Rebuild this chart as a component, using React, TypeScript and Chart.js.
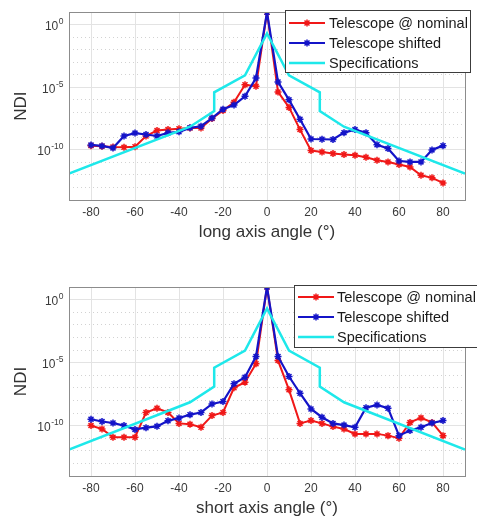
import React, { useEffect, useRef } from 'react';
import { Chart, registerables } from 'chart.js';

Chart.register(...registerables);

// ---------- data ----------
const angles = [-80, -75, -70, -65, -60, -55, -50, -45, -40, -35, -30, -25, -20, -15, -10, -5, 0, 5, 10, 15, 20, 25, 30, 35, 40, 45, 50, 55, 60, 65, 70, 75, 80];

const longNominal = [2.2e-10, 2.0e-10, 1.7e-10, 1.6e-10, 1.8e-10, 1.3e-9, 3.5e-9, 4.2e-9, 5.0e-9, 5.6e-9, 5.6e-9, 3.2e-8, 1.4e-7, 6.3e-7, 1.6e-5, 1.2e-5, 10, 4.3e-6, 2.5e-7, 4.2e-9, 8.9e-11, 6.9e-11, 5.1e-11, 4.3e-11, 3.7e-11, 2.6e-11, 1.5e-11, 1.1e-11, 6.8e-12, 4.4e-12, 9.5e-13, 5.9e-13, 2.3e-13];
const longShifted = [2.5e-10, 2.1e-10, 1.4e-10, 1.3e-9, 2.2e-9, 1.7e-9, 1.3e-9, 2.3e-9, 2.8e-9, 5.8e-9, 7.8e-9, 3.5e-8, 1.8e-7, 3.8e-7, 1.9e-6, 5.5e-5, 10, 2.7e-5, 1.0e-6, 2.8e-8, 7.4e-10, 7.1e-10, 6.8e-10, 2.4e-9, 4.2e-9, 2.4e-9, 2.6e-10, 1.3e-10, 1.3e-11, 1.1e-11, 1.1e-11, 1.0e-10, 2.2e-10];

const shortNominal = [1.0e-10, 5.4e-11, 1.2e-11, 1.2e-11, 1.2e-11, 1.1e-9, 2.4e-9, 1.1e-9, 1.5e-10, 1.3e-10, 7.4e-11, 6.3e-10, 1.1e-9, 1.0e-7, 2.8e-7, 8.1e-6, 10, 1.5e-5, 6.9e-8, 1.5e-10, 2.5e-10, 1.5e-10, 8.3e-11, 5.4e-11, 2.2e-11, 2.2e-11, 2.2e-11, 1.6e-11, 1.0e-11, 1.8e-10, 4.1e-10, 1.8e-10, 1.6e-11];
const shortShifted = [3.2e-10, 2.1e-10, 1.6e-10, 1.0e-10, 5.0e-11, 6.8e-11, 8.7e-11, 2.4e-10, 4.0e-10, 7.4e-10, 1.1e-9, 5.2e-9, 8.1e-9, 2.1e-7, 6.9e-7, 3.1e-5, 10, 3.1e-5, 7.9e-7, 3.7e-8, 2.1e-9, 4.6e-10, 1.5e-10, 1.1e-10, 7.4e-11, 2.6e-9, 4.4e-9, 2.4e-9, 1.6e-11, 4.0e-11, 7.4e-11, 1.6e-10, 2.5e-10];

const specAngles = [-90, -35, -24, -24, -10, 0, 10, 24, 24, 35, 90];
const specValues = [1.26e-12, 7.1e-9, 1.26e-7, 4.0e-6, 8.9e-5, 0.2, 8.9e-5, 4.0e-6, 1.26e-7, 7.1e-9, 1.26e-12];

const xTicks = [-80, -60, -40, -20, 0, 20, 40, 60, 80];
const yDecades = [1, 0, -1, -2, -3, -4, -5, -6, -7, -8, -9, -10, -11, -12, -13, -14];
const yLabelExponents = ['0', '-5', '-10'];
const legendLabels = ['Telescope @ nominal', 'Telescope shifted', 'Specifications'];

const RED = '#f01818';
const BLUE = '#1414c8';
const CYAN = '#1ee8ea';
const FONT = '"Liberation Sans", Arial, sans-serif';

Chart.defaults.font.family = FONT;

type Cfg = {
  nominal: number[];
  shifted: number[];
  xTitle: string;
  padTop: number;
  xAxisHeight: number;
  xTitlePadBottom: number;
  legendBox: { x: number; y: number; w: number; h: number; rows: number[]; lineX0: number; lineX1: number; textX: number };
};

function drawStar(ctx: CanvasRenderingContext2D, x: number, y: number, r: number) {
  ctx.beginPath();
  ctx.moveTo(x - r, y); ctx.lineTo(x + r, y);
  ctx.moveTo(x, y - r); ctx.lineTo(x, y + r);
  const d = r * 0.707;
  ctx.moveTo(x - d, y - d); ctx.lineTo(x + d, y + d);
  ctx.moveTo(x - d, y + d); ctx.lineTo(x + d, y - d);
  ctx.stroke();
}

function makeChart(canvas: HTMLCanvasElement, cfg: Cfg) {
  const lb = cfg.legendBox;
  const framePlugin = {
    id: 'frame',
    afterDraw(chart: any) {
      const { ctx, chartArea: a } = chart;
      ctx.save();
      ctx.strokeStyle = '#8c8c8c';
      ctx.lineWidth = 1;
      ctx.strokeRect(Math.round(a.left) + 0.5, Math.round(a.top) + 0.5, Math.round(a.right - a.left), Math.round(a.bottom - a.top));

      // y tick labels with superscript exponents
      const ys = chart.scales.y;
      ctx.fillStyle = '#3a3a3a';
      ctx.textBaseline = 'alphabetic';
      ctx.textAlign = 'left';
      yLabelExponents.forEach((ex) => {
        const y = ys.getPixelForValue(Math.pow(10, Number(ex)));
        ctx.font = '8.5px ' + FONT;
        const we = ctx.measureText(ex).width;
        ctx.font = '12px ' + FONT;
        const wb = ctx.measureText('10').width;
        const right = a.left - 6;
        const x0 = right - we - wb;
        ctx.fillText('10', x0, y + 5.5);
        ctx.font = '8.5px ' + FONT;
        ctx.fillText(ex, x0 + wb + 0.5, y - 0.5);
      });

      // legend
      ctx.fillStyle = '#ffffff';
      ctx.fillRect(lb.x, lb.y, lb.w, lb.h);
      ctx.strokeStyle = '#3c3c3c';
      ctx.lineWidth = 1;
      ctx.strokeRect(lb.x + 0.5, lb.y + 0.5, lb.w, lb.h);
      const cols = [RED, BLUE, CYAN];
      ctx.font = '14.5px ' + FONT;
      ctx.textBaseline = 'middle';
      ctx.textAlign = 'left';
      legendLabels.forEach((t, i) => {
        const y = lb.y + lb.rows[i];
        ctx.strokeStyle = cols[i];
        ctx.lineWidth = i === 2 ? 2.5 : 2;
        ctx.beginPath();
        ctx.moveTo(lb.x + lb.lineX0, y);
        ctx.lineTo(lb.x + lb.lineX1, y);
        ctx.stroke();
        if (i < 2) {
          ctx.lineWidth = 1.5;
          drawStar(ctx, lb.x + (lb.lineX0 + lb.lineX1) / 2, y, 3.5);
        }
        ctx.fillStyle = '#1a1a1a';
        ctx.fillText(t, lb.x + lb.textX, y + 1);
      });
      ctx.restore();
    },
  };

  const tickFont = { size: 12, family: FONT };
  const isMajor = (v: number) => {
    const e = Math.round(Math.log10(v));
    return e % 5 === 0;
  };

  return new Chart(canvas, {
    type: 'line',
    data: {
      datasets: [
        {
          label: legendLabels[0],
          data: angles.map((a, i) => ({ x: a, y: cfg.nominal[i] })),
          borderColor: RED,
          backgroundColor: RED,
          borderWidth: 2,
          pointStyle: 'star',
          pointRadius: 3.5,
          pointBorderWidth: 1.5,
          pointBorderColor: RED,
          order: 2,
        },
        {
          label: legendLabels[1],
          data: angles.map((a, i) => ({ x: a, y: cfg.shifted[i] })),
          borderColor: BLUE,
          backgroundColor: BLUE,
          borderWidth: 2.2,
          pointStyle: 'star',
          pointRadius: 3.5,
          pointBorderWidth: 1.5,
          pointBorderColor: BLUE,
          order: 1,
        },
        {
          label: legendLabels[2],
          data: specAngles.map((a, i) => ({ x: a, y: specValues[i] })),
          borderColor: CYAN,
          backgroundColor: CYAN,
          borderWidth: 2.5,
          pointRadius: 0,
          order: 0,
        },
      ],
    },
    options: {
      responsive: false,
      animation: false,
      devicePixelRatio: 1,
      layout: { padding: { top: cfg.padTop, right: 12, left: 0, bottom: 0 } },
      plugins: { legend: { display: false }, tooltip: { enabled: false } },
      elements: { line: { tension: 0 } },
      scales: {
        x: {
          type: 'linear',
          min: -90,
          max: 90,
          afterBuildTicks: (s: any) => { s.ticks = xTicks.map((v) => ({ value: v })); },
          afterFit: (s: any) => { s.height = cfg.xAxisHeight; },
          ticks: { autoSkip: false, maxRotation: 0, padding: 5, font: tickFont, color: '#3a3a3a' },
          grid: { color: '#e3e3e3', drawTicks: false, lineWidth: 1 },
          border: { display: false },
          title: { display: true, text: cfg.xTitle, font: { size: 17, family: FONT }, color: '#333333', padding: { top: 0, bottom: cfg.xTitlePadBottom } },
        },
        y: {
          type: 'logarithmic',
          min: 1e-14,
          max: 1e1,
          afterBuildTicks: (s: any) => { s.ticks = yDecades.map((e) => ({ value: Math.pow(10, e) })); },
          afterFit: (s: any) => { s.width = 69; },
          ticks: {
            autoSkip: false,
            padding: 5,
            font: tickFont,
            color: '#3a3a3a',
            callback: () => '',
          },
          grid: {
            drawTicks: false,
            lineWidth: 1,
            color: (c: any) => (c.tick && isMajor(c.tick.value) ? '#e3e3e3' : '#d2d2d2'),
          },
          border: {
            display: false,
            dash: (c: any) => (c.tick && isMajor(c.tick.value) ? [] : [1, 3]),
          },
          title: { display: true, text: 'NDI', font: { size: 17, family: FONT }, color: '#333333', padding: { top: 11, bottom: 0 } },
        },
      },
    } as any,
    plugins: [framePlugin],
  });
}

export default function App() {
  const topRef = useRef<HTMLCanvasElement>(null);
  const botRef = useRef<HTMLCanvasElement>(null);

  useEffect(() => {
    const c1 = makeChart(topRef.current!, {
      nominal: longNominal,
      shifted: longShifted,
      xTitle: 'long axis angle (°)',
      padTop: 10,
      xAxisHeight: 59,
      xTitlePadBottom: 16,
      legendBox: { x: 285, y: 10, w: 185, h: 62, rows: [13, 33, 53], lineX0: 4, lineX1: 40, textX: 44 },
    });
    const c2 = makeChart(botRef.current!, {
      nominal: shortNominal,
      shifted: shortShifted,
      xTitle: 'short axis angle (°)',
      padTop: 27,
      xAxisHeight: 43,
      xTitlePadBottom: 0,
      legendBox: { x: 294, y: 25, w: 195, h: 62, rows: [12, 32, 52], lineX0: 4, lineX1: 40, textX: 43 },
    });
    return () => {
      c1.destroy();
      c2.destroy();
    };
  }, []);

  return (
    <div style={{ position: 'absolute', left: 0, top: 0, width: 477, height: 519, background: '#ffffff' }}>
      <canvas ref={topRef} width={477} height={259} style={{ position: 'absolute', left: 0, top: 0, display: 'block' }} />
      <canvas ref={botRef} width={477} height={259} style={{ position: 'absolute', left: 0, top: 260, display: 'block' }} />
    </div>
  );
}
